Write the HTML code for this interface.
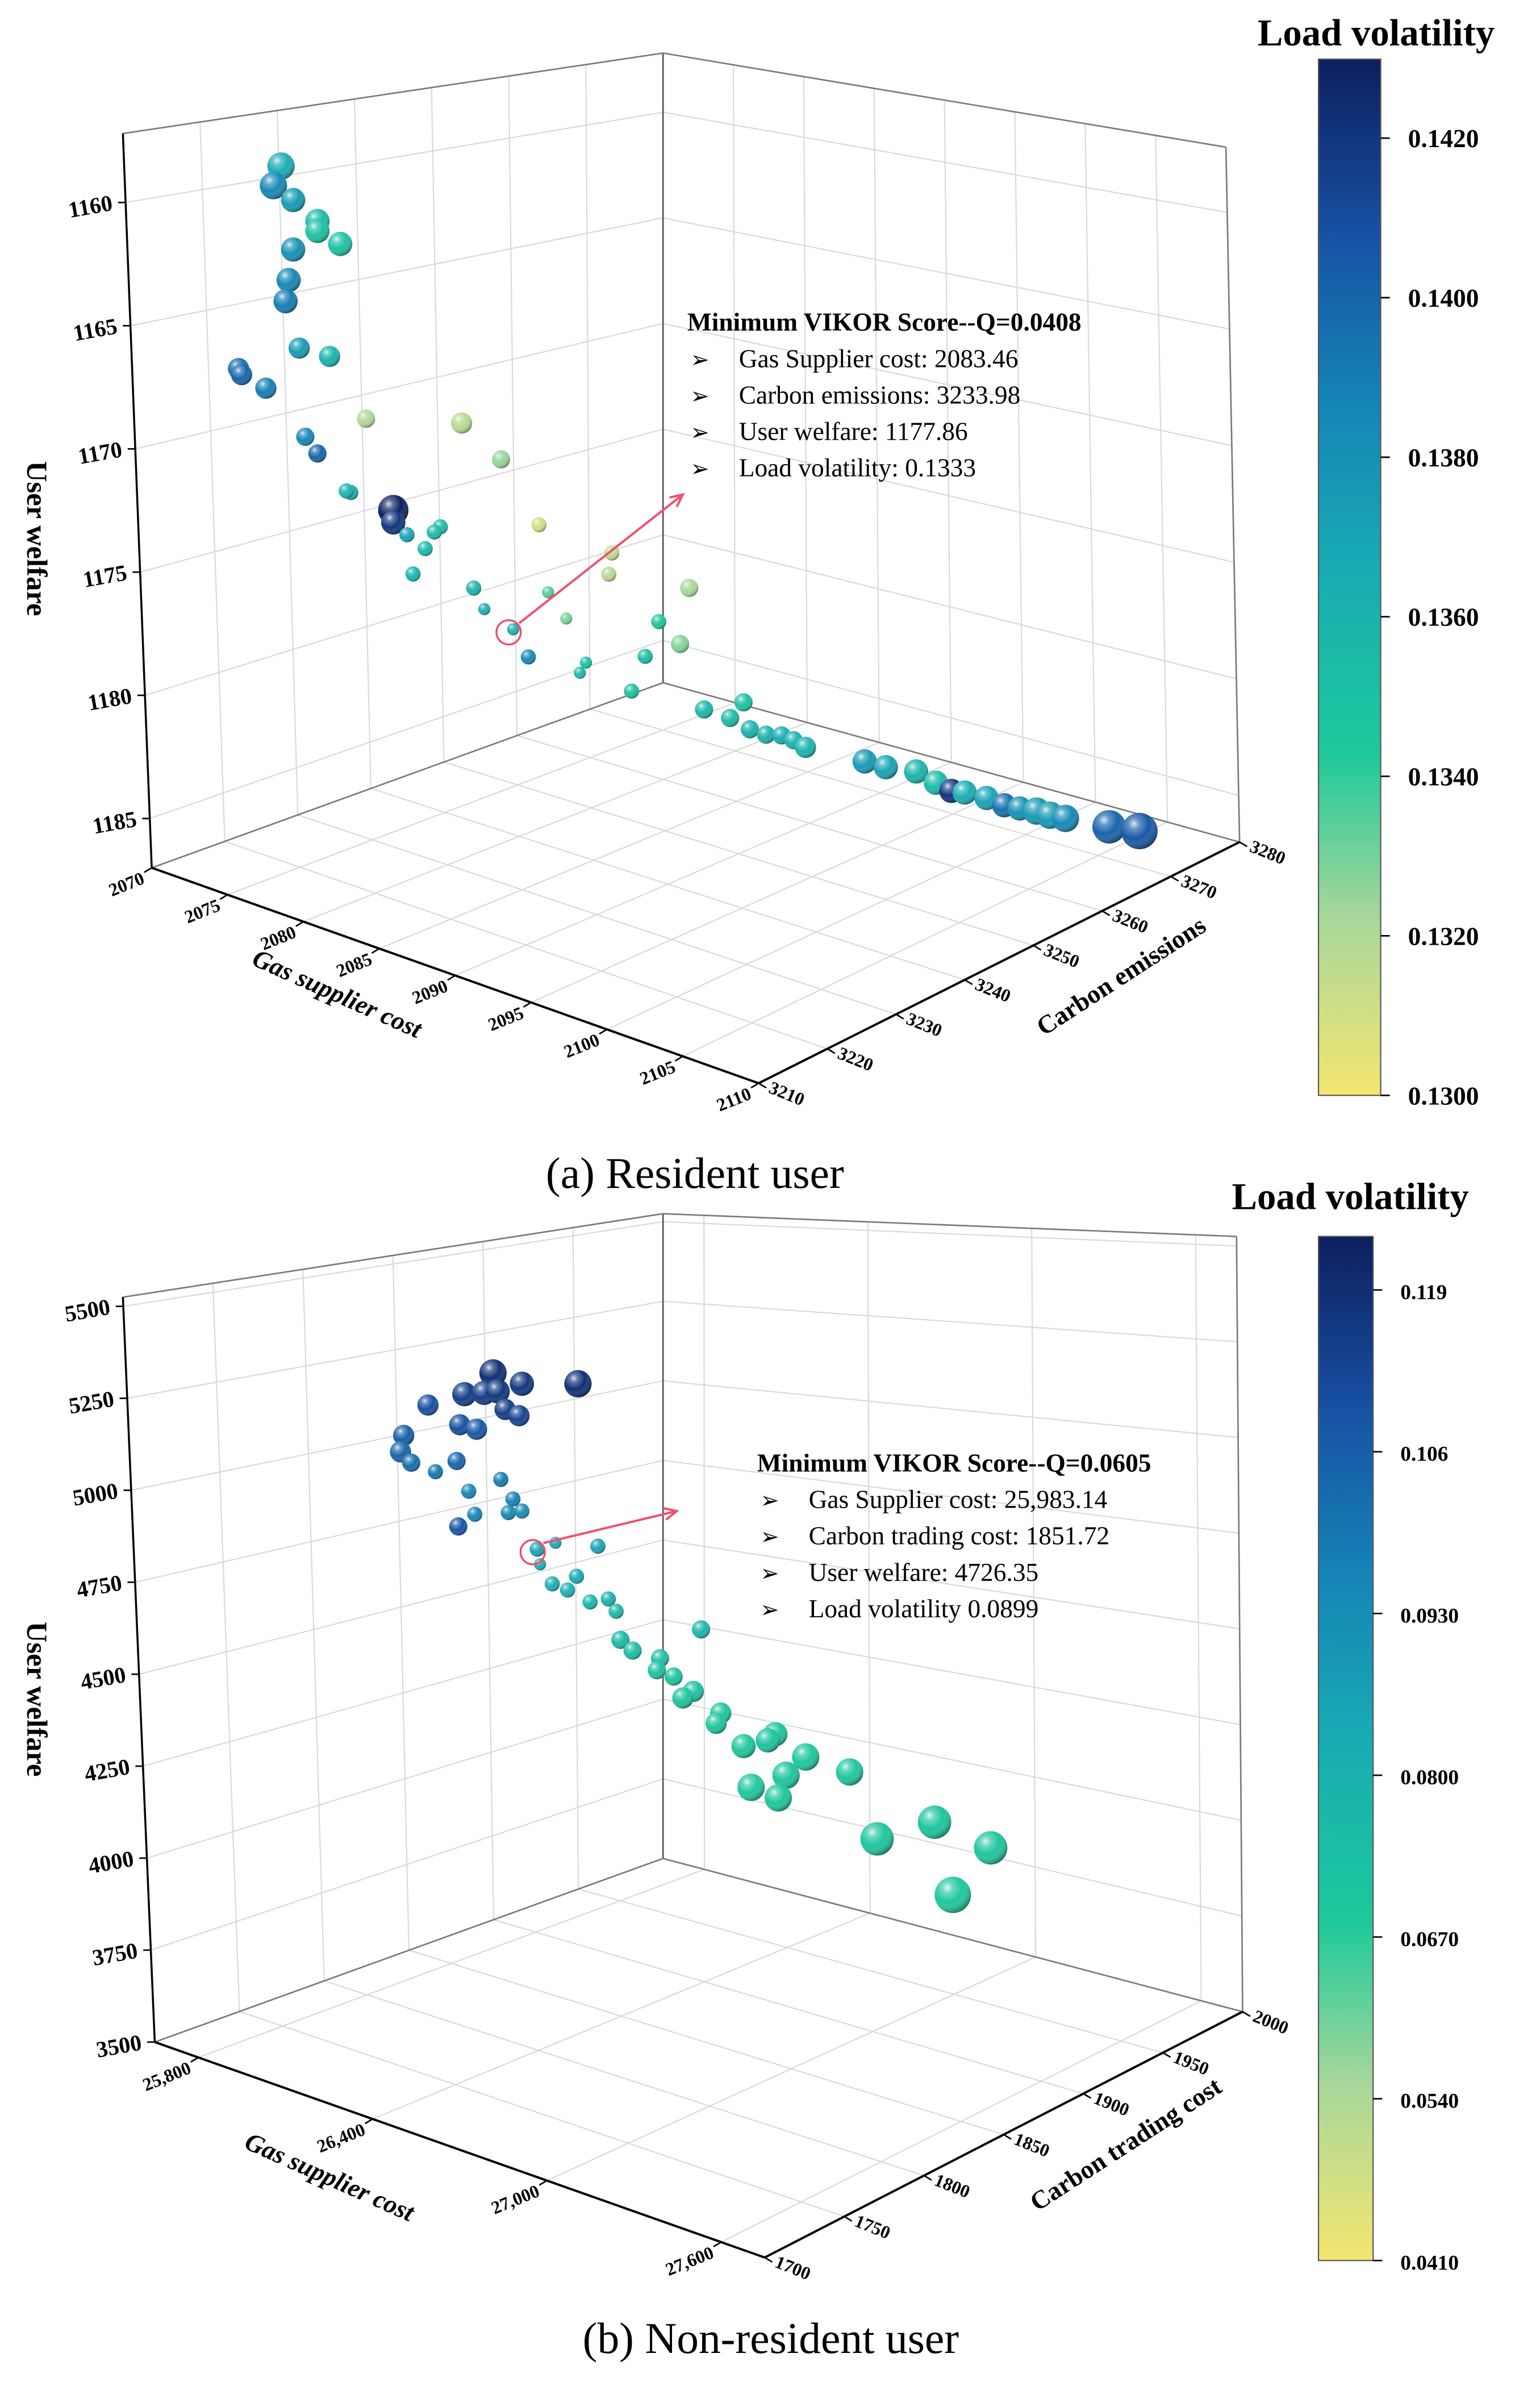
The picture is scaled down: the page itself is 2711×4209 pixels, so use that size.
<!DOCTYPE html>
<html><head><meta charset="utf-8"><style>
html,body{margin:0;padding:0;background:#fff;}
svg{display:block;}
text{font-family:"Liberation Serif",serif;}
</style></head><body>
<svg id="chart" xmlns="http://www.w3.org/2000/svg" width="2711" height="4209" viewBox="0 0 1015 1576" preserveAspectRatio="none">
<defs>
<radialGradient id="shine" cx="35%" cy="30%" r="75%">
<stop offset="0" stop-color="#fff" stop-opacity="0.85"/>
<stop offset="0.2" stop-color="#fff" stop-opacity="0.35"/>
<stop offset="0.55" stop-color="#fff" stop-opacity="0"/>
<stop offset="1" stop-color="#000" stop-opacity="0.45"/>
</radialGradient>
<linearGradient id="cbar" x1="0" y1="1" x2="0" y2="0">
<stop offset="0" stop-color="#f3e66f"/>
<stop offset="0.17" stop-color="#a9d79a"/>
<stop offset="0.33" stop-color="#1ec99a"/>
<stop offset="0.5" stop-color="#19adb3"/>
<stop offset="0.67" stop-color="#1584b6"/>
<stop offset="0.83" stop-color="#1751a4"/>
<stop offset="1" stop-color="#0d1f5e"/>
</linearGradient>
</defs>
<g id="layer"></g>
</svg>
<script>
// ---------- Panel (a) data ----------
const aGas = [2076.7,2076.2,2077.5,2079.1,2079.1,2080.6,2077.5,2077.2,2077.0,2077.9,2079.9,2073.9,2074.1,2075.7,2082.3,2088.6,2078.3,2079.1,2091.2,2081.3,2081.0,2084.1,2084.1,2093.7,2087.2,2086.8,2085.0,2086.2,2098.5,2085.4,2098.3,2103.6,2089.4,2094.3,2090.1,2095.5,2101.6,2092.0,2103.0,2093.0,2100.7,2096.8,2096.4,2099.8,2105,2105,2105,2105,2105,2105,2105,2105,2105,2105,2105,2105,2105,2105,2105,2105,2105,2105,2105,2105,2105,2105];
const aCarbon = [3215,3215,3215,3215,3215,3215,3215,3215,3215,3215,3215,3215,3215,3215,3215,3215,3215,3215,3215,3215,3215,3215,3215,3215,3215,3215,3215,3215,3215,3215,3215,3215,3215,3215,3215,3215,3215,3215,3215,3215,3215,3215,3215,3215,3214.1,3219.7,3217.8,3220.6,3222.9,3225.1,3226.8,3228.5,3236.9,3239.9,3244.2,3247.0,3249.2,3251.1,3254.2,3256.7,3258.9,3261.3,3263.2,3265.4,3271.6,3275.9];
const aWelfare = [1157.4,1158.3,1158.6,1159.1,1159.5,1159.7,1160.6,1161.9,1162.8,1164.5,1164.4,1166.2,1166.4,1166.6,1166.4,1165.2,1168.0,1168.5,1166.1,1169.6,1169.6,1169.7,1170.2,1168.2,1169.7,1170.0,1170.5,1170.8,1168.3,1172.0,1169.2,1168.6,1171.7,1170.8,1172.4,1171.6,1170.4,1172.8,1171.0,1173.7,1172.0,1173.1,1173.6,1173.6,1173.1,1173.5,1173.9,1174.7,1175.2,1175.5,1175.9,1176.4,1178.0,1178.6,1179.3,1180.1,1180.7,1181.0,1181.6,1182.2,1182.6,1183.0,1183.4,1183.8,1184.9,1185.6];
const aLoad = [0.1365,0.1385,0.1375,0.1355,0.1350,0.1350,0.1380,0.1385,0.1390,0.1375,0.1360,0.1395,0.1400,0.1390,0.1320,0.1318,0.1385,0.1400,0.1325,0.1365,0.1360,0.1430,0.1420,0.1310,0.1355,0.1355,0.1370,0.1355,0.1315,0.1360,0.1318,0.1322,0.1360,0.1335,0.1365,0.1330,0.1345,0.1360,0.1328,0.1385,0.1352,0.1350,0.1355,0.1350,0.1358,0.1350,0.1355,0.1360,0.1360,0.1365,0.1360,0.1360,0.1375,0.1370,0.1360,0.1355,0.1420,0.1365,0.1370,0.1395,0.1380,0.1375,0.1375,0.1385,0.1400,0.1405];
const aSize = [9,9,8,8,8,8,8,8,8,7,7,7,7,7,6,7,6,6,6,5,5,10,8,5,5,5,5,5,5,5,5,6,5,4,4,4,5,4,6,5,5,4,4,5,6,6,6,6,6,6,6,7,8,8,8,8,8,8,8,8,8,9,9,9,11,12];
const aGasTicks = [2070,2075,2080,2085,2090,2095,2100,2105,2110];
const aCarbonTicks = [3210,3220,3230,3240,3250,3260,3270,3280];
const aWelfareTicks = [1160,1165,1170,1175,1180,1185];
const aBarTicks = [0.1300,0.1320,0.1340,0.1360,0.1380,0.1400,0.1420];
const aBest = 37;

// ---------- Panel (b) data ----------
const bGas = [26445,26739,26545,26346,26414,26461,26220,26487,26535,26330,26388,26136,26125,26162,26319,26246,26472,26361,26514,26382,26498,26545,26325,26598,26661,26808,26608,26734,26650,26703,26844,26781,26871,27165,26886,26928,27023,27012,27070,27138,27102,27233,27217,27422,27396,27312,27527,27459,27679,27338,27432,27973,27774,28167,28036];
const bCarbon = [1770,1770,1770,1770,1770,1770,1770,1770,1770,1770,1770,1770,1770,1770,1770,1770,1770,1770,1770,1770,1770,1770,1770,1770,1770,1770,1770,1770,1770,1770,1770,1770,1770,1770,1770,1770,1770,1770,1770,1770,1770,1770,1770,1770,1770,1770,1770,1770,1770,1770,1770,1770,1770,1770,1770];
const bWelfare = [5379,5442,5381,5290,5315,5334,5221,5293,5291,5202,5208,5112,5064,5046,5100,5048,5098,5031,5058,4975,5016,5035,4924,4948,4985,5022,4910,4917,4870,4870,4890,4862,4865,4908,4792,4776,4785,4749,4750,4731,4702,4702,4669,4704,4679,4637,4675,4604,4682,4533,4534,4638,4530,4629,4460];
const bLoad = [0.119,0.119,0.117,0.115,0.115,0.117,0.110,0.115,0.113,0.110,0.108,0.106,0.104,0.102,0.104,0.100,0.098,0.095,0.096,0.095,0.094,0.093,0.108,0.085,0.084,0.086,0.082,0.083,0.082,0.080,0.080,0.078,0.077,0.077,0.076,0.074,0.073,0.072,0.071,0.072,0.071,0.070,0.070,0.070,0.071,0.069,0.069,0.070,0.070,0.069,0.069,0.070,0.070,0.070,0.069];
const bSize = [9,9,8,8,8,8,7,7,7,7,7,7,7,6,6,5,5,5,5,5,5,5,6,5,4,5,4,5,5,5,5,5,5,6,6,6,6,6,6,7,7,7,7,8,8,8,9,9,9,9,9,11,11,11,12];
const bGasTicks = [25800,26400,27000,27600];
const bGasLabels = ["25,800","26,400","27,000","27,600"];
const bCarbonTicks = [1700,1750,1800,1850,1900,1950,2000];
const bWelfareTicks = [3500,3750,4000,4250,4500,4750,5000,5250,5500];
const bBarTicks = [0.0410,0.0540,0.0670,0.0800,0.0930,0.106,0.119];
const bBarLabels = ["0.0410","0.0540","0.0670","0.0800","0.0930","0.106","0.119"];
const bBest = 23;

const NS = "http://www.w3.org/2000/svg";
const layer = document.getElementById('layer');
function mk(tag, attrs, parent){const e=document.createElementNS(NS,tag);for(const k in attrs)e.setAttribute(k,attrs[k]);(parent||layer).appendChild(e);return e;}

const stops=[[0,[243,230,111]],[0.17,[169,215,154]],[0.33,[30,201,154]],[0.5,[25,173,179]],[0.67,[21,132,182]],[0.83,[23,81,164]],[1,[13,31,94]]];
function cmap(t){t=Math.max(0,Math.min(1,t));for(let i=1;i<stops.length;i++){if(t<=stops[i][0]){const a=stops[i-1],b=stops[i];const f=(t-a[0])/(b[0]-a[0]);return 'rgb('+a[1].map((v,j)=>Math.round(v+(b[1][j]-v)*f)).join(',')+')';}}return 'rgb(13,31,94)';}

function bil(Q,fg,fc){return [(1-fg)*(1-fc)*Q[0][0]+fg*(1-fc)*Q[1][0]+fg*fc*Q[2][0]+(1-fg)*fc*Q[3][0],
  (1-fg)*(1-fc)*Q[0][1]+fg*(1-fc)*Q[1][1]+fg*fc*Q[2][1]+(1-fg)*fc*Q[3][1]];}

function panel(P){
  // box projection (perspective-like, trilinear)
  const proj=(g,c,w)=>{const fg=(g-P.g0)/(P.g1-P.g0),fc=(c-P.c0)/(P.c1-P.c0),fw=(w-P.wF)/(P.wT-P.wF);
    const a=bil(P.floor,fg,fc),b=bil(P.top,fg,fc);return [a[0]+(b[0]-a[0])*fw,a[1]+(b[1]-a[1])*fw];};
  // mark projection (affine)
  const mproj=(g,c,w)=>{const M=P.M;const fg=(g-M.g0)/(M.g1-M.g0),fc=(c-M.c0)/(M.c1-M.c0);
    return [M.ox+fg*M.gv[0]+fc*M.cv[0], M.oy+fg*M.gv[1]+fc*M.cv[1]-(w-M.wF)/(M.wT-M.wF)*M.H];};
  const line=(a,b,st,sw,name)=>{const l=mk('line',{x1:a[0],y1:a[1],x2:b[0],y2:b[1],stroke:st,'stroke-width':sw});
    
    return l;};
  const grid='#d9d9d9';
  P.gT.forEach(g=>line(proj(g,P.c0,P.wF),proj(g,P.c1,P.wF),grid,0.8,'floor-gridline'));
  P.cT.forEach(c=>line(proj(P.g0,c,P.wF),proj(P.g1,c,P.wF),grid,0.8,'floor-gridline'));
  P.cT.forEach(c=>line(proj(P.g0,c,P.wF),proj(P.g0,c,P.wT),grid,0.8,'wall-gridline'));
  P.wTk.forEach(w=>line(proj(P.g0,P.c0,w),proj(P.g0,P.c1,w),grid,0.8,'wall-gridline'));
  P.gT.forEach(g=>line(proj(g,P.c1,P.wF),proj(g,P.c1,P.wT),grid,0.8,'wall-gridline'));
  P.wTk.forEach(w=>line(proj(P.g0,P.c1,w),proj(P.g1,P.c1,w),grid,0.8,'wall-gridline'));
  const ed='#7a7a7a';
  line(proj(P.g0,P.c1,P.wF),proj(P.g0,P.c1,P.wT),'#555',1,'box-edge');
  line(proj(P.g1,P.c1,P.wF),proj(P.g1,P.c1,P.wT),ed,1,'box-edge');
  line(proj(P.g0,P.c0,P.wT),proj(P.g0,P.c1,P.wT),ed,1,'box-edge');
  line(proj(P.g0,P.c1,P.wT),proj(P.g1,P.c1,P.wT),ed,1,'box-edge');
  line(proj(P.g0,P.c0,P.wF),proj(P.g0,P.c1,P.wF),ed,1,'box-edge');
  line(proj(P.g0,P.c1,P.wF),proj(P.g1,P.c1,P.wF),ed,1,'box-edge');
  line(proj(P.g0,P.c0,P.wF),proj(P.g0,P.c0,P.wT),'#000',1.3,'y-axis-line');
  line(proj(P.g0,P.c0,P.wF),proj(P.g1,P.c0,P.wF),'#000',1.5,'x-axis-line');
  line(proj(P.g1,P.c0,P.wF),proj(P.g1,P.c1,P.wF),'#000',1.5,'z-axis-line');
  const txt=(x,y,s,fs,anchor,rot,name,bold,italic)=>{const t=mk('text',{x:x,y:y,'font-size':fs,'text-anchor':anchor,'font-weight':bold?'bold':'normal','font-style':italic?'italic':'normal',fill:'#000'});
    if(rot)t.setAttribute('transform','rotate('+rot+' '+x+' '+y+')');t.textContent=s;
    
    return t;};
  P.wTk.forEach(w=>{const p=proj(P.g0,P.c0,w);line(p,[p[0]-5,p[1]],'#000',1,'y-tick');
    txt(p[0]-8,p[1]+5,String(w),P.fs,'end',-10,'y-tick-label',true,false);});
  P.gT.forEach((g,i)=>{const p=proj(g,P.c0,P.wF);line(p,[p[0]-5,p[1]+3],'#000',1,'x-tick');
    txt(p[0]-4,p[1]+10,P.gL?P.gL[i]:String(g),P.fs2,'end',-22,'x-tick-label',true,false);});
  P.cT.forEach(c=>{const p=proj(P.g1,c,P.wF);line(p,[p[0]+5,p[1]+3],'#000',1,'z-tick');
    txt(p[0]+6,p[1]+6,String(c),P.fs2,'start',22,'z-tick-label',true,false);});
  txt(P.gTitle[0],P.gTitle[1],'Gas supplier cost',17,'middle',24,'x-axis-title',true,true);
  txt(P.cTitle[0],P.cTitle[1],P.cName,17,'middle',-33,'z-axis-title',true,false);
  txt(P.wTitle[0],P.wTitle[1],'User welfare',19,'middle',90,'y-axis-title',true,false);
  for(let i=0;i<P.G.length;i++){
    const p=mproj(P.G[i],P.C[i],P.W[i]);const r=P.S[i];
    const col=cmap((P.L[i]-P.v0)/(P.v1-P.v0));
    const c1=mk('circle',{cx:p[0],cy:p[1],r:r,fill:col});
    
    
    const c2=mk('circle',{cx:p[0],cy:p[1],r:r,fill:'url(#shine)'});
    
    
  }
  const b=mproj(P.G[P.best],P.C[P.best],P.W[P.best]);
  const hc=mk('circle',{cx:b[0]-3,cy:b[1]+2,r:8,fill:'none',stroke:'#f0506e','stroke-width':1.3});
  
  
  const ax=b[0]+4,ay=b[1]-4,ex=P.arrow[0],ey=P.arrow[1];
  line([ax,ay],[ex,ey],'#f0506e',1.5,'annotation-arrow');
  const ang=Math.atan2(ey-ay,ex-ax);
  const ah=mk('polyline',{points:(ex-9*Math.cos(ang-0.45))+','+(ey-9*Math.sin(ang-0.45))+' '+ex+','+ey+' '+(ex-9*Math.cos(ang+0.45))+','+(ey-9*Math.sin(ang+0.45)),fill:'none',stroke:'#f0506e','stroke-width':1.5});
  
  
  txt(P.ann[0],P.ann[1],P.annTitle,17,'start',0,'annotation-title',true,false);
  P.annLines.forEach((s,i)=>{const y=P.ann[1]+24*(i+1);
    txt(P.ann[0]+2,y,'➢',15,'start',0,'annotation-bullet',false,false);
    txt(P.ann[0]+34,y,s,17,'start',0,'annotation-line',false,false);});
  const cb=mk('rect',{x:P.bar[0],y:P.bar[1],width:P.bar[2],height:P.bar[3],fill:'url(#cbar)',stroke:'#555','stroke-width':0.8});
  
  
  P.bT.forEach((v,i)=>{const y=P.bar[1]+P.bar[3]-(v-P.v0)/(P.v1-P.v0)*P.bar[3];const xr=P.bar[0]+P.bar[2];
    line([xr,y],[xr+6,y],'#000',1,'colorbar-tick');
    txt(xr+18,y+6,P.bL?P.bL[i]:v.toFixed(4),P.bfs,'start',0,'colorbar-tick-label',true,false);});
  txt(P.barTitle[0],P.barTitle[1],'Load volatility',25,'middle',0,'colorbar-title',true,false);
  txt(P.cap[0],P.cap[1],P.capText,29,'middle',0,'panel-caption',false,false);
}

panel({floor:[[100,572],[500,714],[817,555],[437,450]],top:[[81,88],[470,110],[808,97],[437,35]],
  g0:2070,g1:2110,c0:3210,c1:3280,wF:1187,wT:1157.2,
  M:{ox:95,oy:570,g0:2070,g1:2110,gv:[400,142],c0:3210,c1:3280,cv:[325,-140],wF:1186.5,wT:1157.5,H:472.7},
  gT:aGasTicks,cT:aCarbonTicks,wTk:aWelfareTicks,G:aGas,C:aCarbon,W:aWelfare,L:aLoad,S:aSize,best:aBest,
  v0:0.13,v1:0.14299,fs:15,fs2:12,gTitle:[220,660],cTitle:[742,648],cName:'Carbon emissions',wTitle:[18,355],
  arrow:[450,326],ann:[453,218],annTitle:'Minimum VIKOR Score--Q=0.0408',
  annLines:['Gas Supplier cost: 2083.46','Carbon emissions: 3233.98','User welfare: 1177.86','Load volatility: 0.1333'],
  bar:[869,39,41,683],bT:aBarTicks,bfs:17,barTitle:[907,30],cap:[458,783],capText:'(a) Resident user'});

panel({floor:[[102,1346],[504,1488],[819,1326],[437,1225]],top:[[81,855],[470,870],[815,815],[437,800]],
  g0:25650,g1:27750,c0:1700,c1:2000,wF:3500,wT:5525,
  M:{ox:100,oy:1335,g0:25650,g1:27750,gv:[400,160],c0:1700,c1:2000,cv:[315,-150],wF:3500,wT:5550,H:497.1},
  gT:bGasTicks,gL:bGasLabels,cT:bCarbonTicks,wTk:bWelfareTicks,G:bGas,C:bCarbon,W:bWelfare,L:bLoad,S:bSize,best:bBest,
  v0:0.041,v1:0.1233,fs:15,fs2:12,gTitle:[215,1440],cTitle:[745,1418],cName:'Carbon trading cost',wTitle:[18,1120],
  arrow:[446,996],ann:[499,970],annTitle:'Minimum VIKOR Score--Q=0.0605',
  annLines:['Gas Supplier cost: 25,983.14','Carbon trading cost: 1851.72','User welfare: 4726.35','Load volatility 0.0899'],
  bar:[869,815,36,675],bT:bBarTicks,bL:bBarLabels,bfs:14,barTitle:[890,797],cap:[508,1551],capText:'(b) Non-resident user'});
</script>
</body></html>
